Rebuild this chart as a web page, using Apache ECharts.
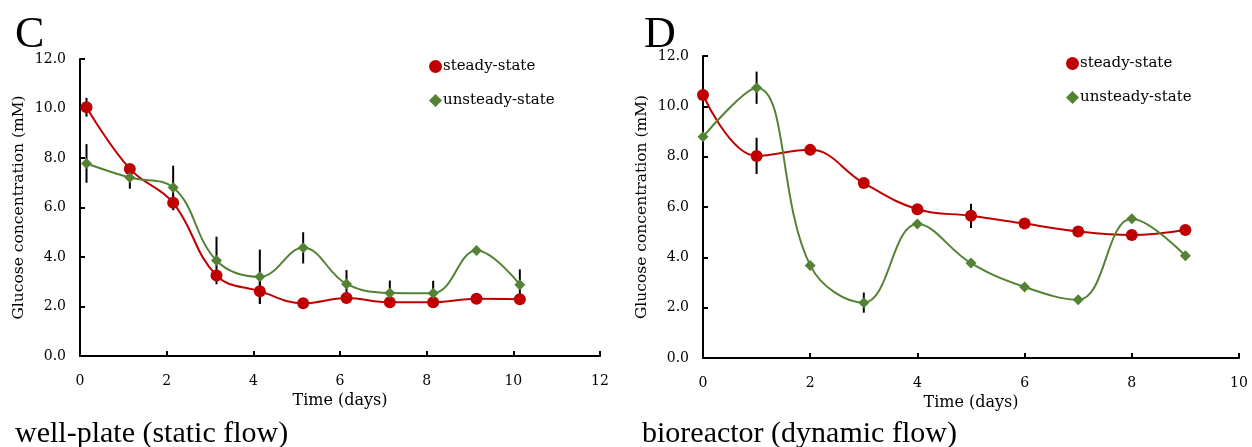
<!DOCTYPE html>
<html>
<head>
<meta charset="utf-8">
<script src="https://cdn.jsdelivr.net/npm/echarts@6/dist/echarts.min.js"></script>
<style>
  html, body { margin: 0; padding: 0; background: #fff; }
  #main { width: 1252px; height: 447px; }
</style>
</head>
<body>
<div id="main"></div>
<script>
// panel C - well plate
var daysC = [0.15, 1.15, 2.15, 3.15, 4.15, 5.15, 6.15, 7.15, 8.15, 9.15, 10.15];
var steadyC = [10.05, 7.56, 6.19, 3.25, 2.62, 2.13, 2.34, 2.17, 2.17, 2.31, 2.29];
var steadyErrC = [0.38, 0.1, 0.3, 0.1, 0.5, 0.1, 0.1, 0.1, 0.1, 0.1, 0.1];
var unsteadyC = [7.78, 7.21, 6.81, 3.86, 3.2, 4.37, 2.91, 2.55, 2.54, 4.26, 2.88];
var unsteadyErrC = [0.78, 0.45, 0.88, 0.96, 1.1, 0.63, 0.56, 0.5, 0.5, 0.15, 0.62];

// panel D - bioreactor
var daysD = [0, 1, 2, 3, 4, 5, 6, 7, 8, 9];
var steadyD = [10.45, 8.03, 8.27, 6.95, 5.91, 5.65, 5.34, 5.03, 4.89, 5.09];
var steadyErrD = [0.1, 0.72, 0.1, 0.1, 0.1, 0.48, 0.1, 0.1, 0.1, 0.1];
var unsteadyD = [8.79, 10.74, 3.68, 2.2, 5.32, 3.77, 2.82, 2.31, 5.53, 4.06];
var unsteadyErrD = [0.1, 0.64, 0.1, 0.4, 0.1, 0.1, 0.1, 0.1, 0.1, 0.1];

var RED = '#c00000';
var GREEN = '#548235';
var FONT = '"Liberation Serif", "DejaVu Serif", serif';   // captions, panel letters
var AXFONT = '"DejaVu Serif", "Liberation Serif", serif'; // axes + legend (wider, georgia-ish)

function pts(xs, ys) {
    return xs.map(function (x, i) { return [x, ys[i]]; });
}
function errPts(xs, ys, es) {
    return xs.map(function (x, i) { return [x, ys[i], es[i]]; });
}

function errorBars(params, api) {
    var x = api.value(0), y = api.value(1), e = api.value(2);
    var top = api.coord([x, y + e]);
    var bot = api.coord([x, y - e]);
    return {
        type: 'line',
        shape: { x1: top[0], y1: top[1], x2: bot[0], y2: bot[1] },
        style: { stroke: '#000', lineWidth: 2 }
    };
}

function lineSeries(name, idx, data, color, symbol, size) {
    return {
        name: name,
        type: 'line',
        xAxisIndex: idx,
        yAxisIndex: idx,
        data: data,
        smooth: 0.4,
        symbol: symbol,
        symbolSize: size,
        showAllSymbol: true,
        lineStyle: { color: color, width: 2 },
        itemStyle: { color: color },
        z: 3
    };
}

function errSeries(idx, data) {
    return {
        type: 'custom',
        xAxisIndex: idx,
        yAxisIndex: idx,
        renderItem: errorBars,
        encode: { x: 0, y: 1 },
        data: data,
        silent: true,
        z: 2
    };
}

function xAxisCfg(idx, max) {
    return {
        type: 'value',
        gridIndex: idx,
        min: 0, max: max, interval: 2,
        name: 'Time (days)',
        nameLocation: 'middle',
        nameGap: 33,
        nameTextStyle: { fontFamily: AXFONT, fontSize: 16, color: '#000' },
        axisLine: { lineStyle: { color: '#000', width: 2 } },
        axisTick: { inside: true, length: 5, lineStyle: { color: '#000', width: 2 } },
        axisLabel: { margin: 18, fontFamily: AXFONT, fontSize: 14, color: '#000' },
        splitLine: { show: false }
    };
}

function yAxisCfg(idx) {
    return {
        type: 'value',
        gridIndex: idx,
        min: 0, max: 12, interval: 2,
        name: 'Glucose concentration (mM)',
        nameLocation: 'middle',
        nameGap: 53,
        nameTextStyle: { fontFamily: AXFONT, fontSize: 15.5, color: '#000' },
        axisLine: { show: true, lineStyle: { color: '#000', width: 2 } },
        axisTick: { show: true, inside: true, length: 5, lineStyle: { color: '#000', width: 2 } },
        axisLabel: {
            margin: 14, fontFamily: AXFONT, fontSize: 14, color: '#000',
            formatter: function (v) { return v.toFixed(1); }
        },
        splitLine: { show: false }
    };
}

function legendCfg(left, top) {
    return {
        orient: 'vertical',
        left: left,
        top: top,
        padding: 0,
        itemGap: 19,
        itemWidth: 13,
        itemHeight: 13,
        textStyle: { fontFamily: AXFONT, fontSize: 15, color: '#000', padding: [0, 0, 0, -4] },
        data: [
            { name: 'steady-state', icon: 'circle' },
            { name: 'unsteady-state', icon: 'diamond' }
        ]
    };
}

var myChart = echarts.init(document.getElementById('main'));
var option = {
    backgroundColor: '#fff',
    animation: false,
    title: [
        { text: 'C', left: 10, top: 8, textStyle: { fontFamily: FONT, fontSize: 44, fontWeight: 'normal', color: '#000' } },
        { text: 'D', left: 639, top: 8, textStyle: { fontFamily: FONT, fontSize: 44, fontWeight: 'normal', color: '#000' } },
        { text: 'well-plate (static flow)', left: 10, top: 414, textStyle: { fontFamily: FONT, fontSize: 30, fontWeight: 'normal', color: '#000' } },
        { text: 'bioreactor (dynamic flow)', left: 637, top: 414, textStyle: { fontFamily: FONT, fontSize: 30, fontWeight: 'normal', color: '#000' } }
    ],
    legend: [legendCfg(429, 59), legendCfg(1066, 56)],
    grid: [
        { left: 80, top: 59, width: 520, height: 297 },
        { left: 703, top: 56, width: 536, height: 302 }
    ],
    xAxis: [xAxisCfg(0, 12), xAxisCfg(1, 10)],
    yAxis: [yAxisCfg(0), yAxisCfg(1)],
    series: [
        errSeries(0, errPts(daysC, steadyC, steadyErrC)),
        errSeries(0, errPts(daysC, unsteadyC, unsteadyErrC)),
        lineSeries('steady-state', 0, pts(daysC, steadyC), RED, 'circle', 12),
        lineSeries('unsteady-state', 0, pts(daysC, unsteadyC), GREEN, 'diamond', 11),
        errSeries(1, errPts(daysD, steadyD, steadyErrD)),
        errSeries(1, errPts(daysD, unsteadyD, unsteadyErrD)),
        lineSeries('steady-state', 1, pts(daysD, steadyD), RED, 'circle', 12),
        lineSeries('unsteady-state', 1, pts(daysD, unsteadyD), GREEN, 'diamond', 11)
    ]
};
myChart.setOption(option);
</script>
</body>
</html>
